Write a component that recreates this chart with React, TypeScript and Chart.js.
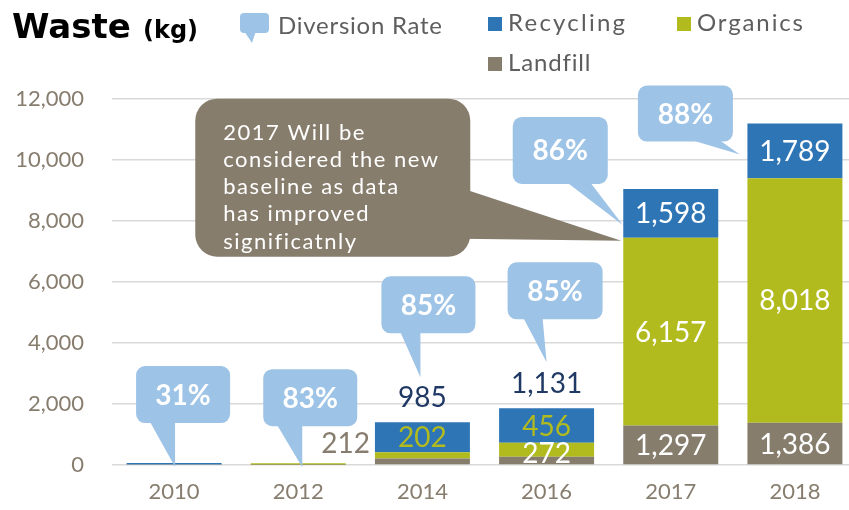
import React, { useEffect, useRef } from 'react';
import { Chart, registerables } from 'chart.js';

Chart.register(...registerables);

// ---------- data ----------
const years = ['2010', '2012', '2014', '2016', '2017', '2018'];
const landfill = [20, 10, 212, 272, 1297, 1386];
const organics = [0, 50, 202, 456, 6157, 8018];
const recycling = [45, 0, 985, 1131, 1598, 1789];
const diversionRate = ['31%', '83%', '85%', '85%', '86%', '88%'];
const yMax = 12000;
const yStep = 2000;
const noteLines = ['2017 Will be', 'considered the new', 'baseline as data', 'has improved', 'significatnly'];
const noteYearIndex = 4;

// ---------- styles / layout ----------
const C = {
  landfill: '#877D6D',
  organics: '#B2BB1E',
  recycling: '#2E75B6',
  bubble: '#9DC3E6',
  navy: '#1F3864',
  tick: '#877D6E',
  grid: '#D9D9D9',
  legendText: '#5E5E5E',
};

const landfillLabel = ['none', 'none', 'left', 'center', 'center', 'center'];
const organicsLabel = ['none', 'none', 'onTop', 'onTop', 'center', 'center'];
const recyclingLabel = ['none', 'none', 'above', 'above', 'center', 'center'];

const bubbleLayout = [
  { tipDx: 1, tipDy: 4, boxDx: -39, boxDy: -101, w: 94, h: 57, t0: 14, t1: 39 },
  { tipDx: 4, tipDy: 4, boxDx: -39, boxDy: -98, w: 94, h: 57, t0: 14, t1: 39 },
  { tipDx: -2, tipDy: -45, boxDx: -39, boxDy: -101, w: 94, h: 57, t0: 19, t1: 39 },
  { tipDx: 0, tipDy: -46, boxDx: -39, boxDy: -100, w: 95, h: 57, t0: 16, t1: 35 },
  { tipDx: -48, tipDy: 36, boxDx: -110, boxDy: -108, w: 95, h: 67, t0: 55, t1: 78 },
  { tipDx: -55, tipDy: 31, boxDx: -102, boxDy: -69, w: 95, h: 56, t0: 55, t1: 82 },
];

const legendItems = [
  { label: 'Recycling', color: C.recycling, x: 488, y: 31, w: 117 },
  { label: 'Organics', color: C.organics, x: 677, y: 31, w: 106 },
  { label: 'Landfill', color: C.landfill, x: 488, y: 71, w: 82 },
];

const LATO_CAP = 0.7165;

function fitText(ctx: CanvasRenderingContext2D, text: string, x: number, y: number, target: number) {
  (ctx as any).letterSpacing = '0px';
  const w = ctx.measureText(text).width;
  const sp = Math.max(0, (target - w) / Math.max(1, text.length - 1));
  (ctx as any).letterSpacing = `${sp}px`;
  ctx.fillText(text, x, y);
  (ctx as any).letterSpacing = '0px';
}

const overlayPlugin = {
  id: 'overlay',
  afterDatasetsDraw(chart: any) {
    const ctx: CanvasRenderingContext2D = chart.ctx;
    const yScale = chart.scales.y;
    const metas = [0, 1, 2].map((i) => chart.getDatasetMeta(i));
    const places = [landfillLabel, organicsLabel, recyclingLabel];
    const values = [landfill, organics, recycling];

    // segment labels
    ctx.save();
    const fs = 28;
    ctx.font = `${fs}px Lato`;
    const cap = fs * LATO_CAP;
    for (let d = 0; d < 3; d++) {
      for (let j = 0; j < years.length; j++) {
        const mode = places[d][j];
        if (mode === 'none') continue;
        const el: any = metas[d].data[j];
        const text = values[d][j].toLocaleString('en-US');
        let tx = el.x;
        let ty = (el.y + el.base) / 2;
        let color = '#FFFFFF';
        let align: CanvasTextAlign = 'center';
        if (mode === 'center') {
          ty = Math.min((el.y + el.base) / 2, el.base - 11);
        } else if (mode === 'left') {
          align = 'right';
          tx = el.x - el.width / 2 - 5;
          ty = el.base - 21;
          color = C.tick;
        } else if (mode === 'onTop') {
          const r: any = metas[2].data[j];
          ty = (r.y + r.base) / 2;
          color = C.organics;
        } else if (mode === 'above') {
          ty = el.y - 25;
          color = C.navy;
        }
        ctx.textAlign = align;
        ctx.fillStyle = color;
        ctx.fillText(text, tx, ty + cap / 2);
      }
    }
    ctx.restore();

    // grey note callout
    ctx.save();
    {
      const el: any = metas[1].data[noteYearIndex];
      const tipX = el.x - el.width / 2 - 2;
      const tipY = yScale.getPixelForValue(landfill[noteYearIndex] + organics[noteYearIndex]) + 3;
      const bx = tipX - 426;
      const by = tipY - 142;
      const w = 275;
      const h = 158;
      ctx.fillStyle = C.landfill;
      ctx.beginPath();
      ctx.roundRect(bx, by, w, h, 22);
      ctx.fill();
      ctx.beginPath();
      ctx.moveTo(bx + w - 4, by + 91);
      ctx.lineTo(bx + w - 10, by + 140);
      ctx.lineTo(tipX, tipY);
      ctx.closePath();
      ctx.fill();
      const nfs = 22;
      ctx.font = `${nfs}px Lato`;
      (ctx as any).letterSpacing = '1.5px';
      ctx.fillStyle = '#FFFFFF';
      ctx.textAlign = 'left';
      noteLines.forEach((line, i) => {
        ctx.fillText(line, bx + 28, by + 33 + i * 27.3 + (nfs * LATO_CAP) / 2);
      });
    }
    ctx.restore();

    // diversion-rate bubbles
    ctx.save();
    const bfs = 28;
    ctx.font = `bold ${bfs}px Lato`;
    ctx.textAlign = 'center';
    years.forEach((_, j) => {
      const L = bubbleLayout[j];
      const el: any = metas[2].data[j];
      const total = landfill[j] + organics[j] + recycling[j];
      const topY = yScale.getPixelForValue(total);
      const tipX = el.x + L.tipDx;
      const tipY = topY + L.tipDy;
      const bx = tipX + L.boxDx;
      const by = tipY + L.boxDy;
      ctx.fillStyle = C.bubble;
      ctx.beginPath();
      ctx.roundRect(bx, by, L.w, L.h, 9);
      ctx.fill();
      ctx.beginPath();
      ctx.moveTo(bx + L.t0, by + L.h - 1);
      ctx.lineTo(bx + L.t1, by + L.h - 1);
      ctx.lineTo(tipX, tipY);
      ctx.closePath();
      ctx.fill();
      ctx.fillStyle = '#FFFFFF';
      ctx.fillText(diversionRate[j], bx + L.w / 2, by + L.h / 2 + (bfs * LATO_CAP) / 2);
    });
    ctx.restore();
  },
  afterDraw(chart: any) {
    const ctx: CanvasRenderingContext2D = chart.ctx;
    ctx.save();
    // title
    ctx.fillStyle = '#000000';
    ctx.textAlign = 'left';
    ctx.font = 'bold 34px "DejaVu Sans"';
    ctx.fillText('Waste', 12, 38);
    ctx.font = 'bold 24px "DejaVu Sans"';
    ctx.fillText('(kg)', 143, 38);

    // legend: diversion bubble icon
    ctx.fillStyle = C.bubble;
    ctx.beginPath();
    ctx.roundRect(240, 13, 29, 20, 4);
    ctx.fill();
    ctx.beginPath();
    ctx.moveTo(244, 31);
    ctx.lineTo(256, 31);
    ctx.lineTo(252, 43);
    ctx.closePath();
    ctx.fill();

    ctx.font = '24px Lato';
    ctx.fillStyle = C.legendText;
    fitText(ctx, 'Diversion Rate', 278, 34, 164);

    legendItems.forEach((it) => {
      ctx.fillStyle = it.color;
      ctx.fillRect(it.x, it.y - 14, 14, 14);
      ctx.fillStyle = C.legendText;
      fitText(ctx, it.label, it.x + 20, it.y, it.w);
    });
    ctx.restore();
  },
};

export default function App() {
  const ref = useRef<HTMLCanvasElement | null>(null);

  useEffect(() => {
    if (!ref.current) return;
    const tickFont = { family: 'Lato', size: 22 };
    const chart = new Chart(ref.current, {
      type: 'bar',
      data: {
        labels: years,
        datasets: [
          { label: 'Landfill', data: landfill, backgroundColor: C.landfill },
          { label: 'Organics', data: organics, backgroundColor: C.organics },
          { label: 'Recycling', data: recycling, backgroundColor: C.recycling },
        ],
      },
      options: {
        animation: false,
        responsive: false,
        maintainAspectRatio: false,
        datasets: { bar: { categoryPercentage: 1, barPercentage: 0.765 } },
        layout: { padding: { top: 99, right: 13, bottom: 0, left: 0 } },
        plugins: { legend: { display: false }, tooltip: { enabled: false } },
        scales: {
          x: {
            stacked: true,
            grid: { display: false, drawTicks: false },
            border: { display: false },
            ticks: { color: C.tick, font: tickFont, padding: 14 },
            afterFit: (s: any) => {
              s.height = 45;
            },
          },
          y: {
            stacked: true,
            min: 0,
            max: yMax,
            grid: { color: C.grid, lineWidth: 1.5, drawTicks: false },
            border: { display: false },
            ticks: {
              stepSize: yStep,
              color: C.tick,
              font: tickFont,
              padding: 28,
              callback: (v: any) => Number(v).toLocaleString('en-US'),
            },
            afterFit: (s: any) => {
              s.width = 112;
            },
          },
        },
      },
      plugins: [overlayPlugin],
    });
    return () => chart.destroy();
  }, []);

  return (
    <div style={{ position: 'fixed', left: 0, top: 0, width: 849, height: 510, overflow: 'hidden', background: '#FFFFFF' }}>
      <canvas ref={ref} width={870} height={510} style={{ display: 'block', width: 870, height: 510 }} />
    </div>
  );
}
